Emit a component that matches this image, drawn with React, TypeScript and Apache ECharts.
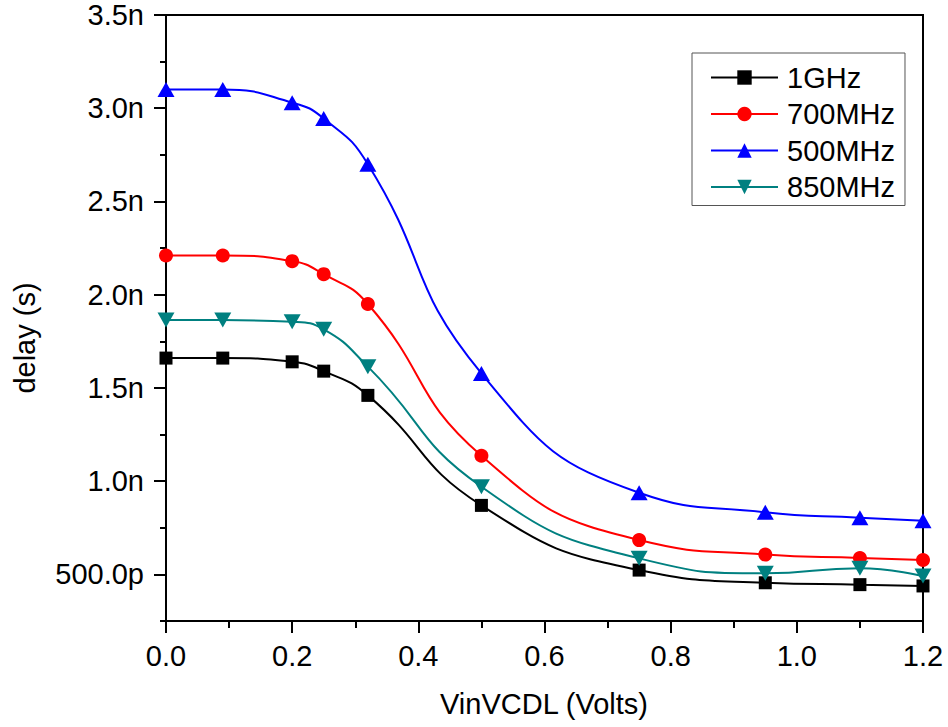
import React, { useEffect, useRef } from "react";
import * as echarts from "echarts";

const xVals = [0, 0.09, 0.2, 0.25, 0.32, 0.5, 0.75, 0.95, 1.1, 1.2];
const ghz1 = [1.66, 1.66, 1.64, 1.59, 1.46, 0.87, 0.523, 0.455, 0.445, 0.438];
const mhz700 = [2.21, 2.21, 2.18, 2.11, 1.95, 1.136, 0.684, 0.606, 0.588, 0.577];
const mhz500 = [3.1, 3.1, 3.03, 2.945, 2.7, 1.578, 0.938, 0.833, 0.804, 0.788];
const mhz850 = [1.864, 1.864, 1.855, 1.814, 1.614, 0.97, 0.586, 0.506, 0.533, 0.491];

const seriesNames = ["1GHz", "700MHz", "500MHz", "850MHz"];
const seriesColors = ["#000000", "#ff0000", "#0000ff", "#008080"];
const xTickLabels = ["0.0", "0.2", "0.4", "0.6", "0.8", "1.0", "1.2"];
const yTickLabels = ["500.0p", "1.0n", "1.5n", "2.0n", "2.5n", "3.0n", "3.5n"];

const FONT = "'Liberation Sans', Arial, sans-serif";
const FS = 29;

function pairs(ys: number[]) {
  return xVals.map((x, i) => [x, ys[i]]);
}

export default function App() {
  const ref = useRef<HTMLDivElement>(null);
  useEffect(() => {
    if (!ref.current) return;
    const chart = echarts.init(ref.current, undefined, { renderer: "svg" });
    const gridBottom0 = 106;
    const plotH = 727 - 15 - gridBottom0;
    const gridBottom1 = gridBottom0 + (plotH * 0.25) / 3.25;
    const yLabelFor = (v: number) => {
      const idx = Math.round((v - 0.5) / 0.5);
      return yTickLabels[idx] ?? "";
    };
    const xLabelFor = (v: number) => {
      const idx = Math.round(v / 0.2);
      return xTickLabels[idx] ?? "";
    };
    const data = [ghz1, mhz700, mhz500, mhz850];
    const symbols = ["rect", "circle", "triangle", "path://M0,0 L10,0 L5,9 Z"];
    const sizes: any[] = [13, 14, [17, 15], [17, 15]];
    chart.setOption({
      animation: false,
      backgroundColor: "#ffffff",
      grid: [
        {
          left: 166,
          right: 25,
          top: 15,
          bottom: gridBottom0,
          show: true,
          borderColor: "#000",
          borderWidth: 2,
        },
        { left: 166, right: 25, top: 15, bottom: gridBottom1, show: false },
      ],
      xAxis: [
        {
          type: "value",
          gridIndex: 0,
          min: 0,
          max: 1.2,
          interval: 0.2,
          axisLine: { show: true, lineStyle: { color: "#000", width: 2 } },
          axisTick: { show: true, inside: false, length: 12, lineStyle: { color: "#000", width: 2 } },
          minorTick: { show: true, splitNumber: 2, length: 7, lineStyle: { color: "#000", width: 2 } },
          splitLine: { show: false },
          axisLabel: {
            formatter: xLabelFor,
            color: "#000",
            fontSize: FS,
            fontFamily: FONT,
            margin: 20,
          },
        },
        { type: "value", gridIndex: 1, min: 0, max: 1.2, show: false },
      ],
      yAxis: [
        {
          type: "value",
          gridIndex: 0,
          min: 0.25,
          max: 3.5,
          interval: 0.25,
          axisLine: { show: true, lineStyle: { color: "#000", width: 2 } },
          axisTick: { show: true, inside: false, length: 6, lineStyle: { color: "#000", width: 2 } },
          splitLine: { show: false },
          axisLabel: { show: false },
        },
        {
          type: "value",
          gridIndex: 1,
          min: 0.5,
          max: 3.5,
          interval: 0.5,
          axisLine: { show: true, lineStyle: { color: "#000", width: 2 } },
          axisTick: { show: true, inside: false, length: 12, lineStyle: { color: "#000", width: 2 } },
          splitLine: { show: false },
          axisLabel: {
            formatter: yLabelFor,
            color: "#000",
            fontSize: FS,
            fontFamily: FONT,
            margin: 22,
          },
        },
      ],
      legend: {
        orient: "vertical",
        left: 692,
        top: 53,
        data: seriesNames,
        backgroundColor: "#fff",
        borderColor: "#555",
        borderWidth: 1,
        padding: [10, 10, 4, 18],
        itemWidth: 67,
        itemHeight: 18,
        itemGap: 7.5,
        textStyle: { color: "#000", fontSize: FS, fontFamily: FONT, padding: [0, 0, 0, 4] },
      },
      graphic: [
        {
          type: "text",
          x: 25,
          y: 338,
          rotation: Math.PI / 2,
          style: {
            text: "delay (s)",
            fontSize: FS,
            fontFamily: FONT,
            fill: "#000",
            align: "center",
            verticalAlign: "middle",
          },
        },
        {
          type: "text",
          x: 544,
          y: 704,
          style: {
            text: "VinVCDL (Volts)",
            fontSize: FS,
            fontFamily: FONT,
            fill: "#000",
            align: "center",
            verticalAlign: "middle",
          },
        },
      ],
      series: seriesNames.map((name, i) => ({
        name,
        type: "line",
        xAxisIndex: 0,
        yAxisIndex: 0,
        data: pairs(data[i]),
        smooth: 0.5,
        symbol: symbols[i],
        symbolSize: sizes[i],
        showAllSymbol: true,
        clip: true,
        lineStyle: { color: seriesColors[i], width: 2 },
        itemStyle: { color: seriesColors[i] },
      })),
    });
    return () => chart.dispose();
  }, []);
  return (
    <div
      ref={ref}
      style={{ position: "fixed", left: 0, top: 0, width: 948, height: 727 }}
    />
  );
}
